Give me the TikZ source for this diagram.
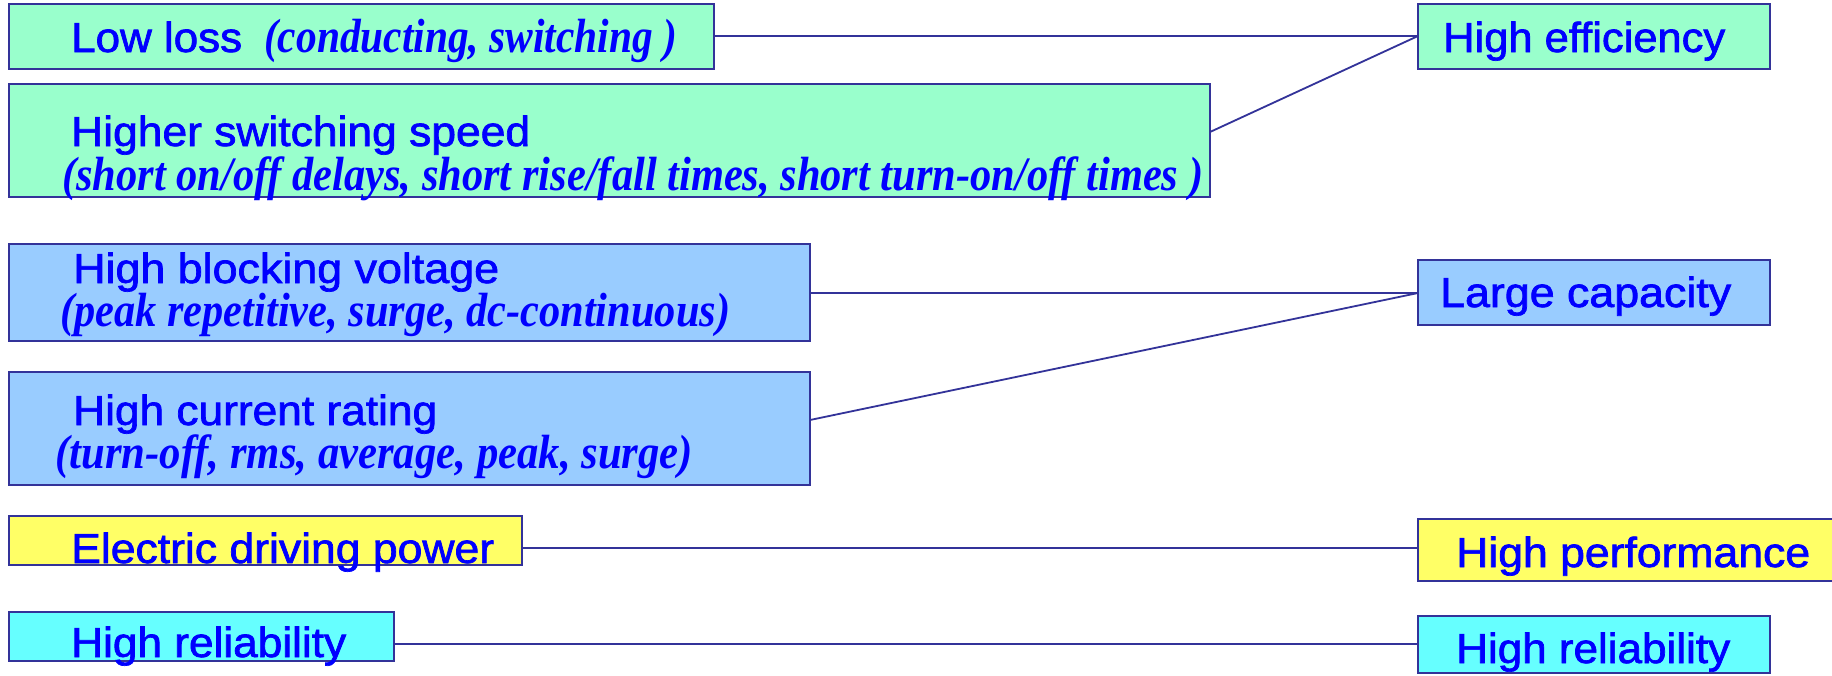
\documentclass[tikz,border=0pt]{standalone}
\usepackage{fontspec}
\setmainfont{Liberation Sans}
\newfontfamily\sansheavy{Liberation Sans}[FakeBold=1.6]
\newfontfamily\itserif{Liberation Serif Bold Italic}
\usepackage{graphicx}
\newcommand{\fitw}[2]{\resizebox{#1pt}{\height}{#2}}
\newcommand{\mainsz}{\sansheavy\fontsize{42}{48}\selectfont}
\newcommand{\itsz}{\itserif\fontsize{48}{54}\selectfont}
\definecolor{mint}{HTML}{99FFCC}
\definecolor{skyb}{HTML}{99CCFF}
\definecolor{yell}{HTML}{FFFF66}
\definecolor{cyanb}{HTML}{66FFFF}
\definecolor{edge}{HTML}{333399}
\definecolor{txtblue}{HTML}{0000FF}
\tikzset{
  box/.style={draw=edge, line width=2.2pt, rectangle, inner sep=0pt, outer sep=0pt},
  txt/.style={anchor=base west, inner sep=0pt, text=txtblue, font=\mainsz},
  itxt/.style={anchor=base west, inner sep=0pt, text=txtblue, font=\itsz},
  conn/.style={draw=edge, line width=1.8pt}
}
\begin{document}
\begin{tikzpicture}[x=1pt,y=-1pt]
\clip (0,0) rectangle (1832,675);
\fill[white] (0,0) rectangle (1832,675);
% left boxes
\draw[box, fill=mint] (9,4) rectangle (714,69);
\coordinate (llE) at (714,36);
\draw[box, fill=mint] (9,84) rectangle (1210,197);
\coordinate (hsE) at (1210,132);
\draw[box, fill=skyb] (9,244) rectangle (810,341);
\coordinate (bvE) at (810,293);
\draw[box, fill=skyb] (9,372) rectangle (810,485);
\coordinate (crE) at (810,420);
\draw[box, fill=yell] (9,516) rectangle (522,565);
\coordinate (edE) at (522,548);
\draw[box, fill=cyanb] (9,612) rectangle (394,661);
\coordinate (rlE) at (394,644);
% right boxes
\draw[box, fill=mint] (1418,4) rectangle (1770,69);
\coordinate (heW) at (1418,36);
\draw[box, fill=skyb] (1418,260) rectangle (1770,325);
\coordinate (lcW) at (1418,293);
\draw[box, fill=yell] (1418,519) rectangle (1850,581);
\coordinate (hpW) at (1418,548);
\draw[box, fill=cyanb] (1418,616) rectangle (1770,673);
\coordinate (rrW) at (1418,644);
% texts
\node[txt] (t1) at (71,52) {\fitw{171}{Low loss}};
\node[itxt] (t1b) at (264,52) {\fitw{413}{(conducting, switching )}};
\node[txt] (t2) at (71,146) {\fitw{459}{Higher switching speed}};
\node[itxt] (t2b) at (62,190) {\fitw{1141}{(short on/off delays, short rise/fall times, short turn-on/off times )}};
\node[txt] (t3) at (73,283) {\fitw{426}{High blocking voltage}};
\node[itxt] (t3b) at (60,326) {\fitw{670}{(peak repetitive, surge, dc-continuous)}};
\node[txt] (t4) at (73,425) {\fitw{364}{High current rating}};
\node[itxt] (t4b) at (55,468) {\fitw{638}{(turn-off, rms, average, peak, surge)}};
\node[txt] (t5) at (71,563) {\fitw{423}{Electric driving power}};
\node[txt] (t6) at (71,657) {\fitw{275}{High reliability}};
\node[txt] (r1) at (1443,52) {\fitw{282}{High efficiency}};
\node[txt] (r2) at (1440,307) {\fitw{291}{Large capacity}};
\node[txt] (r3) at (1456,567) {\fitw{354}{High performance}};
\node[txt] (r4) at (1456,663) {\fitw{274}{High reliability}};
% connectors
\draw[conn] (llE) -- (heW);
\draw[conn] (hsE) -- (heW);
\draw[conn] (bvE) -- (lcW);
\draw[conn] (crE) -- (lcW);
\draw[conn] (edE) -- (hpW);
\draw[conn] (rlE) -- (rrW);
\end{tikzpicture}
\end{document}
